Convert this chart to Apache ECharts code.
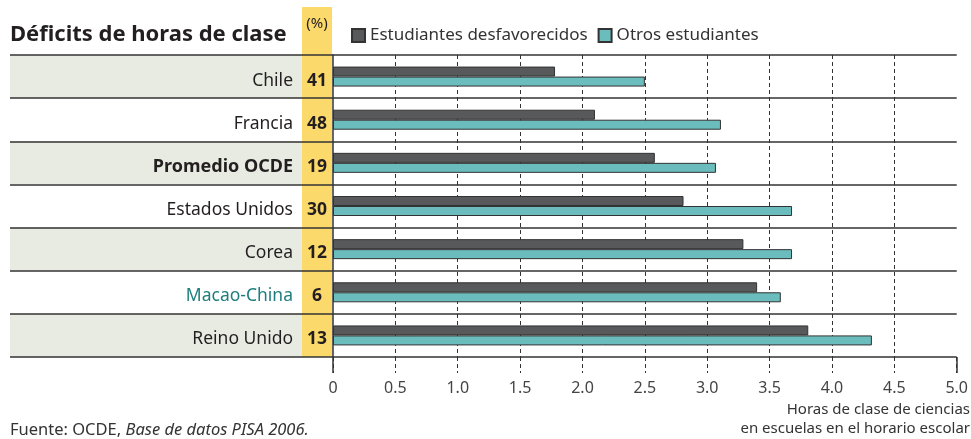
<!DOCTYPE html>
<html>
<head>
<meta charset="utf-8">
<script src="https://cdn.jsdelivr.net/npm/echarts@6/dist/echarts.min.js"></script>
<style>
  html, body { margin: 0; padding: 0; background: #fff; }
  #chart { width: 971px; height: 439px; }
</style>
</head>
<body>
<div id="chart"></div>
<script>
var countries = ["Chile", "Francia", "Promedio OCDE", "Estados Unidos", "Corea", "Macao-China", "Reino Unido"];
var percents = [41, 48, 19, 30, 12, 6, 13];
var desfavorecidos = [1.78, 2.1, 2.58, 2.81, 3.29, 3.4, 3.81];
var otros = [2.5, 3.11, 3.07, 3.68, 3.68, 3.59, 4.32];
var xTicks = [0, 0.5, 1.0, 1.5, 2.0, 2.5, 3.0, 3.5, 4.0, 4.5, 5.0];

var font = "Noto Sans";
var chart = echarts.init(document.getElementById("chart"));

chart.setOption({
  animation: false,
  textStyle: { fontFamily: font },
  title: {
    text: "Déficits de horas de clase",
    left: 5,
    top: 19,
    textStyle: { fontSize: 22, fontWeight: "bold", color: "#231f20", fontFamily: font }
  },
  legend: {
    left: 346,
    top: 22,
    itemWidth: 13,
    itemHeight: 13,
    itemGap: 10,
    icon: "rect",
    textStyle: { fontSize: 17, color: "#333" },
    data: ["Estudiantes desfavorecidos", "Otros estudiantes"]
  },
  grid: [
    { left: 333, right: 10, top: 55, bottom: 82 },
    { left: 10, width: 323, top: 55, bottom: 82 }
  ],
  xAxis: [
    {
      gridIndex: 0,
      type: "value",
      min: 0,
      max: 5,
      interval: 0.5,
      axisLine: { show: false },
      axisTick: { show: true, length: 16, lineStyle: { color: "#333", type: [4, 3] } },
      axisLabel: {
        margin: 23,
        fontSize: 16,
        color: "#444",
        formatter: function (v) {
          var i = xTicks.indexOf(v);
          return i === 0 ? "0" : xTicks[i].toFixed(1);
        }
      },
      splitLine: {
        show: true,
        showMinLine: false,
        showMaxLine: false,
        lineStyle: { color: "#333", type: [4, 3], width: 1 }
      }
    },
    {
      gridIndex: 0,
      type: "value",
      min: 0,
      max: 5,
      interval: 5,
      position: "bottom",
      axisLine: { show: false },
      axisTick: { show: true, length: 16, lineStyle: { color: "#333", width: 1.5 } },
      axisLabel: { show: false },
      splitLine: { show: false }
    },
    { gridIndex: 1, type: "value", min: 0, max: 1, show: false }
  ],
  yAxis: [
    {
      gridIndex: 0,
      type: "category",
      inverse: true,
      data: countries,
      z: 6,
      axisLine: { show: true, lineStyle: { color: "#333", width: 1.5 } },
      axisTick: { show: false },
      splitLine: { show: true, lineStyle: { color: "#333", width: 1.5 } },
      axisLabel: {
        margin: 1,
        formatter: function (v, i) {
          var style = "name";
          if (v === "Promedio OCDE") style = "nameB";
          if (v === "Macao-China") style = "nameT";
          return "{" + style + "|" + v + "}{gap|}{pct|" + percents[i] + "}";
        },
        rich: {
          name: { fontSize: 17.5, color: "#231f20", padding: [8, 0, 0, 0] },
          nameB: { fontSize: 18, color: "#231f20", fontWeight: "bold", padding: [8, 0, 0, 0] },
          nameT: { fontSize: 17.5, color: "#1d7f7d", padding: [8, 0, 0, 0] },
          gap: { width: 9 },
          pct: { width: 30, align: "center", fontSize: 17.5, fontWeight: "bold", color: "#231f20", padding: [8, 0, 0, 0] }
        }
      }
    },
    {
      gridIndex: 1,
      type: "category",
      inverse: true,
      data: countries,
      z: 0,
      axisLine: { show: false },
      axisTick: { show: false },
      axisLabel: { show: false },
      splitLine: { show: false },
      splitArea: { show: true, areaStyle: { color: ["#e8ebe2", "#ffffff"] } }
    },
    {
      gridIndex: 1,
      type: "category",
      inverse: true,
      data: countries,
      z: 5,
      axisLine: { show: false },
      axisTick: { show: false },
      axisLabel: { show: false },
      splitLine: { show: true, lineStyle: { color: "#333", width: 1.5 } }
    }
  ],
  graphic: [
    {
      type: "rect",
      z: 1,
      shape: { x: 302, y: 7, width: 30, height: 350 },
      style: { fill: "#fcd96b" }
    },
    {
      type: "text",
      z: 10,
      x: 317,
      y: 24,
      style: { text: "(%)", fontSize: 15, fill: "#231f20", fontFamily: font, align: "center", verticalAlign: "middle" }
    },
    {
      type: "text",
      x: 970,
      y: 419,
      style: {
        text: "Horas de clase de ciencias\nen escuelas en el horario escolar",
        align: "right",
        verticalAlign: "middle",
        fontSize: 15,
        lineHeight: 19,
        fill: "#333",
        fontFamily: font
      }
    },
    {
      type: "text",
      x: 10,
      y: 430,
      style: {
        text: "{n|Fuente: OCDE, }{i|Base de datos PISA 2006.}",
        verticalAlign: "middle",
        rich: {
          n: { fontSize: 16.5, fill: "#333", fontFamily: font },
          i: { fontSize: 16.5, fill: "#333", fontStyle: "italic", fontFamily: font }
        }
      }
    }
  ],
  series: [
    {
      name: "Estudiantes desfavorecidos",
      type: "bar",
      xAxisIndex: 0,
      yAxisIndex: 0,
      data: desfavorecidos,
      barWidth: 10,
      barGap: "0%",
      itemStyle: { color: "#58595b", borderColor: "#333", borderWidth: 1 }
    },
    {
      name: "Otros estudiantes",
      type: "bar",
      xAxisIndex: 0,
      yAxisIndex: 0,
      data: otros,
      barWidth: 10,
      barGap: "0%",
      itemStyle: { color: "#6bbcbd", borderColor: "#333", borderWidth: 1 }
    }
  ]
});
</script>
</body>
</html>
